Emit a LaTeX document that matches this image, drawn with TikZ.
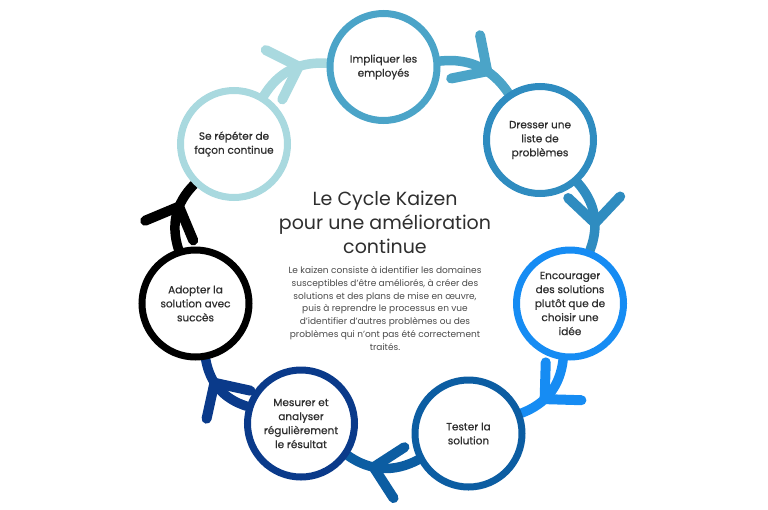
\documentclass[tikz,border=0pt]{standalone}
\usepackage{fontspec}
\setmainfont{Poppins}
\usetikzlibrary{decorations.markings,backgrounds}
\definecolor{cRep}{HTML}{A9D9DF}
\definecolor{cImp}{HTML}{4BA4C8}
\definecolor{cDre}{HTML}{2F8CC0}
\definecolor{cEnc}{HTML}{168CF3}
\definecolor{cTes}{HTML}{0C5DA2}
\definecolor{cMes}{HTML}{0A3A8A}
\definecolor{cAdo}{HTML}{000000}
\definecolor{txt}{HTML}{2E2E2E}
\definecolor{bodytxt}{HTML}{4A4A4A}
\tikzset{
  stepnode/.style={circle, draw=#1, line width=7pt, fill=white, minimum size=107pt,
    inner sep=0pt, align=center, text=txt,
    font=\fontsize{10.5}{14}\selectfont\addfontfeature{FakeBold=0.6}},
  flow/.style={draw=#1, line width=9.5pt, line cap=round, bend left=31, postaction={decorate},
    decoration={markings, mark=at position 0.62 with {
      \draw[#1, line width=10pt, line cap=round, line join=round]
        (-26pt,26pt) -- (0pt,0pt) -- (-26pt,-26pt);}}},
  titlenode/.style={align=center, text=txt, font=\fontsize{19}{24}\selectfont},
  bodynode/.style={align=center, text=bodytxt, font=\fontsize{9}{12.8}\selectfont}
}
\begin{document}
\begin{tikzpicture}[x=1pt, y=-1pt]
\useasboundingbox (0,0) rectangle (768,509);
\node[stepnode=cImp] (imp) at (383.5,67) {Impliquer les\\employés};
\node[stepnode=cDre] (dre) at (540,140) {Dresser une\\liste de\\problèmes};
\node[stepnode=cEnc] (enc) at (570,303.5) {Encourager\\des solutions\\plutôt que de\\choisir une\\idée};
\node[stepnode=cTes] (tes) at (468.5,433.5) {Tester la\\solution};
\node[stepnode=cMes] (mes) at (301,423.5) {Mesurer et\\analyser\\régulièrement\\le résultat};
\node[stepnode=cAdo] (ado) at (195.5,303.5) {Adopter la\\solution avec\\succès};
\node[stepnode=cRep] (rep) at (234,144) {Se répéter de\\façon continue};
\begin{scope}[on background layer]
\draw[flow=cRep] (rep) to (imp);
\draw[flow=cImp] (imp) to (dre);
\draw[flow=cDre] (dre) to (enc);
\draw[flow=cEnc] (enc) to (tes);
\draw[flow=cTes] (tes) to (mes);
\draw[flow=cMes] (mes) to (ado);
\draw[flow=cAdo] (ado) to (rep);
\end{scope}
\node[titlenode] (title) at (385,222) {Le Cycle Kaizen\\pour une amélioration\\continue};
\node[bodynode] (body) at (385,308.5) {Le kaizen consiste à identifier les domaines\\susceptibles d'être améliorés, à créer des\\solutions et des plans de mise en œuvre,\\puis à reprendre le processus en vue\\d'identifier d'autres problèmes ou des\\problèmes qui n'ont pas été correctement\\traités.};
\end{tikzpicture}
\end{document}
